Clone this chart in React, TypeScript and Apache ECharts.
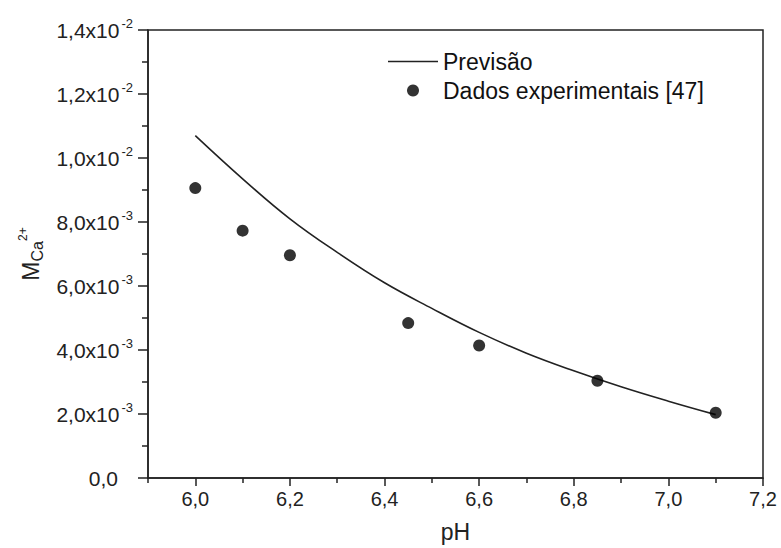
import React, { useEffect, useRef } from "react";
import * as echarts from "echarts";

const phExp = [6.0, 6.1, 6.2, 6.45, 6.6, 6.85, 7.1];
const mExp = [0.00906, 0.00773, 0.00696, 0.00484, 0.00414, 0.00304, 0.00204];

const phPred = [6.0, 6.1, 6.2, 6.3, 6.4, 6.5, 6.6, 6.7, 6.8, 6.9, 7.0, 7.1];
const mPred = [0.0107, 0.00935, 0.0081, 0.00705, 0.0061, 0.0053, 0.00455, 0.0039, 0.00335, 0.00285, 0.0024, 0.00198];

const xMajorTicks = [6.0, 6.2, 6.4, 6.6, 6.8, 7.0, 7.2];
const xMinorTicks = [5.9, 6.1, 6.3, 6.5, 6.7, 6.9, 7.1];

const FONT = "'Liberation Sans', Arial, sans-serif";
const INK = "#222";

function fmtY(v: number): string {
  if (Math.abs(v) < 1e-12) return "{b|0,0}{p|}";
  let exp = 3;
  let m = v * 1000;
  if (v >= 0.00999) {
    exp = 2;
    m = v * 100;
  }
  return `{b|${m.toFixed(1).replace(".", ",")}x10}{s|-${exp}}`;
}

export default function App() {
  const ref = useRef<HTMLDivElement>(null);
  useEffect(() => {
    if (!ref.current) return;
    const chart = echarts.init(ref.current, undefined, { renderer: "svg" });
    chart.setOption({
      animation: false,
      backgroundColor: "#fff",
      textStyle: { fontFamily: FONT },
      grid: {
        left: 148,
        right: 18,
        top: 30,
        bottom: 67,
        show: true,
        borderColor: INK,
        borderWidth: 1.5,
        backgroundColor: "transparent",
      },
      legend: {
        orient: "vertical",
        left: 388,
        top: 50,
        padding: 0,
        itemWidth: 50,
        itemHeight: 12,
        itemGap: 6,
        textStyle: { fontSize: 23, color: "#111", fontFamily: FONT },
        data: [
          { name: "Previsão", icon: "path://M0,0L100,0L100,3L0,3Z" },
          { name: "Dados experimentais [47]", icon: "circle" },
        ],
      },
      xAxis: [
        {
          type: "value",
          min: 5.9,
          max: 7.2,
          name: "pH",
          nameLocation: "middle",
          nameGap: 42,
          nameTextStyle: { fontSize: 23, color: INK, fontFamily: FONT },
          axisLine: { show: true, lineStyle: { color: INK, width: 1.5 } },
          axisTick: {
            show: true,
            length: 8,
            lineStyle: { color: INK, width: 1.5 },
            customValues: xMajorTicks,
          },
          axisLabel: {
            fontSize: 20,
            color: INK,
            margin: 11,
            customValues: xMajorTicks,
            formatter: (v: number) => v.toFixed(1).replace(".", ","),
          },
          splitLine: { show: false },
        },
        {
          type: "value",
          min: 5.9,
          max: 7.2,
          position: "bottom",
          axisLine: { show: false },
          axisTick: {
            show: true,
            length: 5,
            lineStyle: { color: INK, width: 1.5 },
            customValues: xMinorTicks,
          },
          axisLabel: { show: false },
          splitLine: { show: false },
        },
      ],
      yAxis: {
        type: "value",
        min: 0,
        max: 0.014,
        interval: 0.002,
        name: "{m|M}{sub|Ca}{sup|2+}",
        nameLocation: "middle",
        nameGap: 102,
        nameRotate: 90,
        nameTextStyle: {
          color: INK,
          fontFamily: FONT,
          rich: {
            m: { fontSize: 23, lineHeight: 28, color: INK, verticalAlign: "middle" },
            sub: { fontSize: 16, lineHeight: 16, color: INK, verticalAlign: "bottom" },
            sup: { fontSize: 12, lineHeight: 12, color: INK, verticalAlign: "top" },
          },
        },
        axisLine: { show: true, lineStyle: { color: INK, width: 1.5 } },
        axisTick: { show: true, length: 10, lineStyle: { color: INK, width: 1.5 } },
        minorTick: { show: true, splitNumber: 2, length: 6, lineStyle: { color: INK, width: 1.5 } },
        axisLabel: {
          margin: 15,
          formatter: fmtY,
          rich: {
            b: { fontSize: 21, lineHeight: 26, color: INK, fontFamily: FONT, verticalAlign: "middle" },
            s: { fontSize: 13, lineHeight: 13, color: INK, fontFamily: FONT, verticalAlign: "top", padding: [0, 0, 0, 2] },
            p: { width: 15, fontSize: 13 },
          },
        },
        splitLine: { show: false },
      },
      series: [
        {
          name: "Previsão",
          type: "line",
          smooth: 0.4,
          showSymbol: false,
          symbol: "none",
          data: phPred.map((x, i) => [x, mPred[i]]),
          lineStyle: { color: INK, width: 1.6 },
          itemStyle: { color: INK },
          z: 2,
        },
        {
          name: "Dados experimentais [47]",
          type: "scatter",
          symbol: "circle",
          symbolSize: 12,
          data: phExp.map((x, i) => [x, mExp[i]]),
          itemStyle: { color: "#000" },
          z: 3,
        },
      ],
    });
    return () => chart.dispose();
  }, []);
  return (
    <div
      ref={ref}
      style={{ position: "fixed", left: 0, top: 0, width: 781, height: 548, background: "#fff" }}
    />
  );
}
